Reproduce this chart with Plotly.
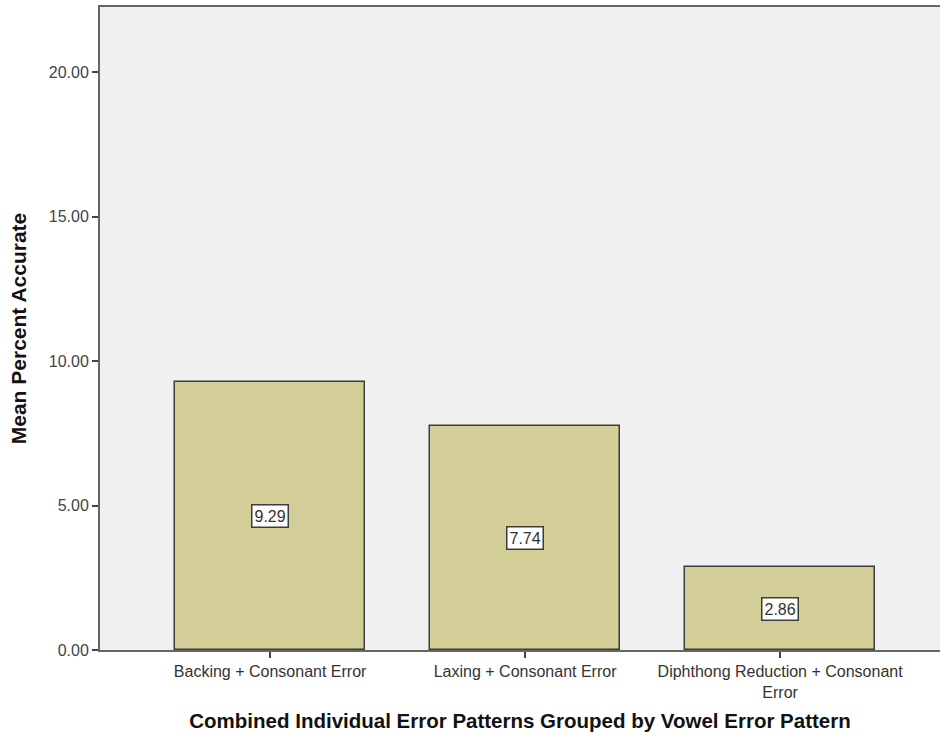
import plotly.graph_objects as go

categories = ["Backing + Consonant Error", "Laxing + Consonant Error",
              "Diphthong Reduction + Consonant<br>Error"]
means = [9.29, 7.74, 2.86]
y_ticks = [0, 5, 10, 15, 20]

x_pos = list(range(len(categories)))
FONT = "Liberation Sans, Arial, sans-serif"

fig = go.Figure()
fig.add_trace(go.Bar(
    x=x_pos, y=means, width=0.745,
    marker=dict(color="#d3ce97", line=dict(color="#3c3c3c", width=1.5)),
    hoverinfo="skip",
))

# value boxes placed at the middle of each bar
for xi, v in zip(x_pos, means):
    fig.add_annotation(
        x=xi, y=v / 2, text=f"{v:.2f}", showarrow=False,
        font=dict(family=FONT, size=16, color="#333333"),
        bgcolor="white", bordercolor="#3c3c3c", borderwidth=1.5, borderpad=2,
    )

fig.update_layout(
    width=940, height=736,
    margin=dict(l=100, r=0, t=7, b=86),
    paper_bgcolor="white", plot_bgcolor="#f0f0f0",
    showlegend=False, bargap=0,
    font=dict(family=FONT, color="#333333"),
    xaxis=dict(
        range=[-0.667, 2.627], tickvals=x_pos, ticktext=categories,
        ticks="outside", ticklen=6, tickcolor="#444444", tickwidth=1.5,
        tickfont=dict(size=16, color="#333333"),
        showline=True, linecolor="#666666", linewidth=2, mirror=True,
        showgrid=False, zeroline=False,
        title=dict(text="<b>Combined Individual Error Patterns Grouped by Vowel Error Pattern</b>",
                   font=dict(size=20.5, color="#111111"), standoff=14),
    ),
    yaxis=dict(
        range=[0, 22.25], tickvals=y_ticks, tickformat=".2f",
        ticks="outside", ticklen=6, tickcolor="#444444", tickwidth=1.5,
        tickfont=dict(size=16, color="#444444"),
        showline=True, linecolor="#666666", linewidth=2,
        showgrid=False, zeroline=False,
        title=dict(text="<b>Mean Percent Accurate</b>",
                   font=dict(size=21, color="#111111"), standoff=16),
    ),
)

fig.write_html("out.html")
